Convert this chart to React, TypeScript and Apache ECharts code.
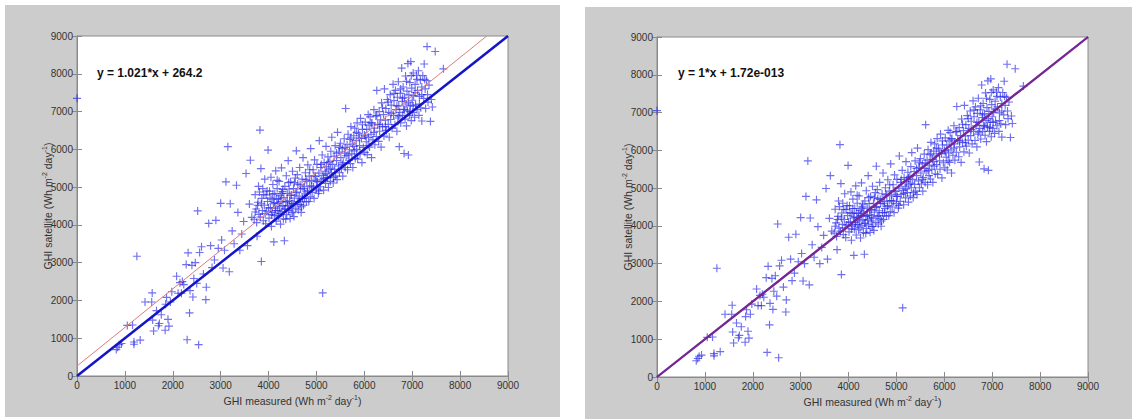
import React, { useEffect, useRef } from "react";
import * as echarts from "echarts";

const xTicks = ["0", "1000", "2000", "3000", "4000", "5000", "6000", "7000", "8000", "9000"];
const leftEquation = "y = 1.021*x + 264.2";
const rightEquation = "y = 1*x + 1.72e-013";
const identityLine = [[0, 0], [9000, 9000]];
const leftFitLine = [[0, 264.2], [8556, 9000]];
const rightFitLine = [[0, 0], [9000, 9000]];

const leftPoints = [
  [0, 7350],
  [820, 700], [850, 760], [880, 830], [930, 860], [1050, 1340], [1160, 1350], [1190, 900], [1190, 840],
  [1320, 950], [1250, 3170], [1420, 1960], [1560, 1960], [1570, 2200], [1600, 1190], [1580, 1480],
  [1660, 1730], [1700, 1330], [1720, 1390], [1760, 1620], [1840, 1210], [1850, 1900], [1870, 2080],
  [1900, 1500], [1920, 1320], [1950, 1960], [1980, 2230], [2080, 2640], [2110, 2190], [2150, 2470],
  [2180, 2190], [2200, 2500], [2230, 2420], [2280, 2950], [2300, 960], [2320, 3260], [2350, 1670],
  [2360, 2260], [2400, 2930], [2420, 2090], [2440, 2580], [2470, 3000], [2500, 2450], [2520, 4370],
  [2540, 830], [2560, 3270], [2600, 3420], [2640, 2700], [2690, 2020], [2700, 2350], [2750, 4040],
  [2790, 3450], [2820, 2870], [2870, 3070], [2900, 4120], [2950, 3380], [3000, 4570], [3020, 3600],
  [3050, 2860], [3080, 3330], [3110, 5140], [3150, 6070], [3180, 2760], [3200, 4560], [3240, 3840],
  [3280, 3500], [3330, 5050], [3360, 4330], [3400, 3330], [3440, 3760], [3480, 4090], [3530, 5360],
  [3560, 3450], [3600, 4550], [3620, 5710], [3650, 4200],
  [3700, 4150], [3720, 4800], [3740, 4420], [3760, 3700], [3780, 4600], [3790, 5020], [3800, 4280],
  [3820, 6510], [3840, 5490], [3850, 3030], [3860, 4700], [3870, 4380], [3880, 4960], [3890, 4110],
  [3910, 4520], [3920, 5210], [3940, 4030], [3950, 4790], [3960, 4360], [3980, 4620], [3990, 5980],
  [4010, 4180], [4020, 4890], [4040, 4450], [4050, 5260], [4060, 3960], [4070, 4680], [4080, 4330],
  [4090, 5070], [4100, 4560], [4110, 3550], [4120, 4250], [4130, 4820], [4140, 4440], [4150, 5430],
  [4160, 4100], [4170, 4690], [4180, 4960], [4190, 4380], [4200, 4570], [4210, 4230], [4220, 5150],
  [4230, 4480], [4240, 4770], [4250, 4020], [4260, 4620], [4270, 5510], [4280, 4350], [4290, 4880],
  [4300, 4510], [4310, 4160], [4320, 4720], [4330, 3580], [4340, 5020], [4350, 4420], [4360, 4600],
  [4370, 5300], [4380, 4270], [4390, 4830], [4400, 4510], [4410, 5700], [4420, 4380], [4430, 4950],
  [4440, 4640], [4450, 4170], [4460, 5140], [4470, 4480], [4480, 4790], [4490, 4320], [4500, 5420],
  [4510, 4560], [4520, 4960], [4530, 4220], [4540, 4710], [4560, 5240], [4570, 4440], [4580, 5960],
  [4590, 4870], [4600, 4600], [4610, 5080], [4620, 4400], [4640, 4760], [4650, 5520], [4660, 4540],
  [4670, 4950], [4680, 4330], [4700, 5210], [4710, 4700], [4720, 5780], [4730, 4520], [4750, 5010],
  [4760, 4820], [4770, 5380], [4790, 4610], [4800, 5150], [4810, 4870], [4820, 5590], [4840, 4620],
  [4850, 5290], [4860, 5030], [4870, 4740], [4880, 6020], [4900, 5180], [4910, 4860], [4930, 5460],
  [4940, 5000], [4950, 4700], [4960, 5720], [4980, 5280], [5000, 4950], [5010, 5600], [5020, 5140],
  [5040, 4830], [5050, 5370], [5060, 6230], [5080, 5010], [5090, 5520], [5100, 5190], [5120, 5850],
  [5130, 2200], [5140, 5310], [5150, 4920], [5160, 5650], [5180, 5420], [5190, 5100], [5200, 6080],
  [5210, 5540], [5230, 5250], [5240, 5800], [5250, 4990], [5260, 5460], [5280, 5680], [5290, 5150],
  [5300, 5950], [5310, 5380], [5320, 6320], [5340, 5600], [5350, 5110], [5370, 5820], [5380, 5470],
  [5390, 6100], [5400, 5290], [5420, 5700], [5430, 5200], [5440, 6450], [5460, 5560], [5470, 5930],
  [5480, 5380], [5500, 6160], [5510, 5780], [5520, 5480], [5540, 6020], [5550, 5290], [5560, 5650],
  [5580, 6280], [5590, 5900], [5600, 5520], [5610, 7080], [5620, 5830], [5640, 6120], [5650, 5460],
  [5660, 6400], [5680, 5710], [5690, 5990], [5700, 6260], [5710, 5620], [5720, 6600], [5740, 5880],
  [5750, 6140], [5760, 5520], [5780, 6360], [5790, 5960], [5800, 6560], [5810, 5760], [5830, 6230],
  [5840, 6000], [5850, 6700], [5860, 5740], [5880, 6420], [5900, 6100], [5910, 5880], [5920, 6820],
  [5940, 6290], [5950, 5650], [5960, 6530], [5980, 6050], [6000, 6380], [6010, 5920], [6020, 6720],
  [6040, 6200], [6050, 6530], [6060, 5860], [6080, 6920], [6090, 6310], [6100, 6640], [6110, 6060],
  [6120, 6860], [6140, 6400], [6150, 5780], [6160, 6700], [6180, 6250], [6200, 7050], [6210, 6560],
  [6220, 6120], [6240, 6880], [6250, 6340], [6260, 7560], [6280, 6660], [6300, 6210], [6310, 7000],
  [6320, 6480], [6340, 6780], [6350, 6060], [6360, 7230], [6380, 6600], [6400, 6920], [6410, 6350],
  [6420, 7600], [6440, 6770], [6450, 7080], [6460, 6500], [6480, 7320], [6500, 6660], [6510, 6980],
  [6520, 6320], [6540, 7450], [6550, 6790], [6560, 7170], [6580, 6560], [6600, 7720], [6610, 6900],
  [6620, 7290], [6640, 6650], [6650, 7560], [6660, 7050], [6680, 6480], [6690, 7380], [6700, 6830],
  [6710, 7790], [6720, 7150], [6730, 6070], [6740, 6980], [6750, 7480], [6760, 6700], [6780, 8150],
  [6790, 7270], [6800, 6900], [6810, 7650], [6820, 7060], [6830, 5890], [6840, 7380], [6850, 6800],
  [6860, 7940], [6870, 7200], [6880, 6620], [6890, 7540], [6900, 7020], [6910, 8270], [6920, 5850],
  [6930, 7440], [6940, 6900], [6950, 7770], [6960, 7150], [6970, 8320], [6980, 6760], [6990, 7620],
  [7000, 7300], [7010, 6980], [7020, 8020], [7030, 7420], [7050, 6850], [7060, 7720], [7070, 7180],
  [7090, 7960], [7100, 7050], [7110, 7560], [7130, 8080], [7140, 6900], [7150, 7400], [7170, 7830],
  [7180, 7100], [7200, 6750], [7200, 7650], [7220, 7950], [7240, 7350], [7250, 8260], [7270, 7600],
  [7280, 7080], [7300, 7820], [7310, 8720], [7320, 7450], [7350, 7700], [7380, 6740], [7400, 7320],
  [7420, 7120], [7480, 8590], [7650, 8130],
  [3720, 4340], [3750, 4060], [3770, 4520], [3810, 4870], [3830, 4210], [3850, 4560], [3900, 4800],
  [3930, 4300], [3970, 4900], [4000, 4450], [4030, 4710], [4060, 4270], [4090, 4820], [4120, 4590],
  [4150, 4380], [4180, 5180], [4210, 4690], [4240, 4300], [4270, 4830], [4300, 4940], [4330, 4420],
  [4360, 4150], [4390, 4620], [4420, 5120], [4450, 4780], [4480, 4560], [4510, 4340], [4540, 5120],
  [4570, 4850], [4600, 5330], [4630, 4620], [4660, 5060], [4690, 4480], [4720, 4960], [4750, 4700],
  [4780, 5200], [4820, 4900], [4860, 5460], [4900, 5030], [4950, 5300], [5000, 5150], [5050, 4900],
  [5100, 5600], [5150, 5230], [5200, 5350], [5250, 5650], [5300, 5500], [5360, 5250], [5420, 5900],
  [5480, 6050], [5540, 5600], [5600, 6050], [5660, 5850], [5720, 6300], [5780, 6080], [5840, 6450],
  [5900, 6300], [5960, 6650], [6020, 6350], [6080, 6100], [6140, 6700], [6200, 6450], [6260, 6900],
  [6320, 6650], [6380, 7100], [6440, 6600], [6500, 7250], [6560, 6950], [6620, 7480], [6680, 7150],
  [6720, 6880], [6760, 7600], [6800, 7350], [6840, 7050], [6880, 7800], [6920, 7250], [6950, 7000],
  [6980, 7950], [7020, 7150], [7060, 7500], [7100, 7850], [7150, 7200], [7200, 7450], [7260, 7850],
  [7330, 7250],
];

const rightPoints = [
  [0, 7050],
  [820, 430], [850, 490], [880, 550], [930, 580], [1050, 1050], [1160, 1060], [1190, 620], [1190, 560],
  [1320, 670], [1250, 2880], [1420, 1660], [1560, 1660], [1570, 1900], [1600, 900], [1580, 1190],
  [1660, 1430], [1700, 1040], [1720, 1100], [1760, 1330], [1840, 920], [1850, 1600], [1870, 1780],
  [1900, 1210], [1920, 1030], [1950, 1660], [1980, 1930], [2080, 2330], [2110, 1890], [2150, 2160],
  [2180, 1890], [2200, 2190], [2230, 2110], [2280, 2630], [2300, 650], [2320, 2930], [2350, 1380],
  [2360, 1950], [2400, 2610], [2420, 1790], [2440, 2270], [2470, 2680], [2500, 2140], [2520, 4050],
  [2540, 510], [2560, 2940], [2600, 3090], [2640, 2380], [2690, 1720], [2700, 2040], [2750, 3700],
  [2790, 3120], [2820, 2550], [2870, 2750], [2900, 3780], [2950, 3050], [3000, 4220], [3020, 3270],
  [3050, 2540], [3080, 3000], [3110, 4780], [3150, 5720], [3180, 2440], [3200, 4210], [3240, 3500],
  [3280, 3170], [3330, 4690], [3360, 3980], [3400, 3000], [3440, 3430], [3480, 3750], [3530, 4990],
  [3560, 3120], [3600, 4200], [3620, 5330], [3650, 3860],
  [3700, 3810], [3720, 4440], [3740, 4080], [3760, 3370], [3780, 4250], [3790, 4660], [3800, 3940],
  [3820, 6150], [3840, 5120], [3850, 2710], [3860, 4340], [3870, 4040], [3880, 4600], [3890, 3770],
  [3910, 4170], [3920, 4850], [3940, 3690], [3950, 4430], [3960, 4020], [3980, 4270], [3990, 5600],
  [4010, 3840], [4020, 4530], [4040, 4100], [4050, 4900], [4060, 3620], [4070, 4330], [4080, 3990],
  [4090, 4710], [4100, 4210], [4110, 3220], [4120, 3910], [4130, 4460], [4140, 4090], [4150, 5060],
  [4160, 3760], [4170, 4340], [4180, 4600], [4190, 4040], [4200, 4220], [4210, 3890], [4220, 4790],
  [4230, 4130], [4240, 4410], [4250, 3680], [4260, 4270], [4270, 5140], [4280, 4000], [4290, 4520],
  [4300, 4160], [4310, 3820], [4320, 4370], [4330, 3250], [4340, 4660], [4350, 4070], [4360, 4250],
  [4370, 4930], [4380, 3930], [4390, 4470], [4400, 4160], [4410, 5330], [4420, 4030], [4430, 4590],
  [4440, 4290], [4450, 3830], [4460, 4780], [4470, 4130], [4480, 4430], [4490, 3980], [4500, 5050],
  [4510, 4210], [4520, 4600], [4530, 3880], [4540, 4360], [4560, 4880], [4570, 4090], [4580, 5580],
  [4590, 4510], [4600, 4250], [4610, 4720], [4620, 4050], [4640, 4400], [4650, 5150], [4660, 4190],
  [4670, 4590], [4680, 3990], [4700, 4850], [4710, 4350], [4720, 5400], [4730, 4170], [4750, 4650],
  [4760, 4460], [4770, 5010], [4790, 4260], [4800, 4790], [4810, 4510], [4820, 5220], [4840, 4270],
  [4850, 4920], [4860, 4670], [4870, 4380], [4880, 5640], [4900, 4820], [4910, 4500], [4930, 5090],
  [4940, 4640], [4950, 4350], [4960, 5350], [4980, 4910], [5000, 4590], [5010, 5230], [5020, 4780],
  [5040, 4470], [5050, 5000], [5060, 5850], [5080, 4650], [5090, 5150], [5100, 4830], [5120, 5470],
  [5130, 1830], [5140, 4940], [5150, 4560], [5160, 5280], [5180, 5050], [5190, 4740], [5200, 5700],
  [5210, 5170], [5230, 4880], [5240, 5420], [5250, 4630], [5260, 5090], [5280, 5310], [5290, 4790],
  [5300, 5570], [5310, 5010], [5320, 5940], [5340, 5230], [5350, 4750], [5370, 5440], [5380, 5100],
  [5390, 5720], [5400, 4920], [5420, 5330], [5430, 4830], [5440, 6060], [5460, 5190], [5470, 5550],
  [5480, 5010], [5500, 5780], [5510, 5400], [5520, 5110], [5540, 5640], [5550, 4920], [5560, 5280],
  [5580, 5900], [5590, 5520], [5600, 5150], [5610, 6680], [5620, 5450], [5640, 5740], [5650, 5090],
  [5660, 6020], [5680, 5330], [5690, 5610], [5700, 5880], [5710, 5240], [5720, 6210], [5740, 5500],
  [5750, 5760], [5760, 5150], [5780, 5980], [5790, 5580], [5800, 6170], [5810, 5380], [5830, 5850],
  [5840, 5620], [5850, 6310], [5860, 5360], [5880, 6040], [5900, 5720], [5910, 5500], [5920, 6430],
  [5940, 5910], [5950, 5270], [5960, 6140], [5980, 5670], [6000, 6000], [6010, 5540], [6020, 6330],
  [6040, 5820], [6050, 6140], [6060, 5480], [6080, 6530], [6090, 5930], [6100, 6250], [6110, 5680],
  [6120, 6470], [6140, 6010], [6150, 5400], [6160, 6310], [6180, 5870], [6200, 6650], [6210, 6170],
  [6220, 5740], [6240, 6490], [6250, 5950], [6260, 7160], [6280, 6270], [6300, 5830], [6310, 6600],
  [6320, 6090], [6340, 6390], [6350, 5680], [6360, 6830], [6380, 6210], [6400, 6520], [6410, 5960],
  [6420, 7190], [6440, 6380], [6450, 6680], [6460, 6110], [6480, 6920], [6500, 6270], [6510, 6580],
  [6520, 5930], [6540, 7040], [6550, 6390], [6560, 6770], [6580, 6170], [6600, 7310], [6610, 6500],
  [6620, 6890], [6640, 6260], [6650, 7150], [6660, 6650], [6680, 6090], [6690, 6980], [6700, 6430],
  [6710, 7380], [6720, 6750], [6730, 5690], [6740, 6580], [6750, 7070], [6760, 6300], [6780, 7730],
  [6790, 6870], [6800, 6500], [6810, 7240], [6820, 6660], [6830, 5510], [6840, 6970], [6850, 6400],
  [6860, 7520], [6870, 6790], [6880, 6230], [6890, 7130], [6900, 6620], [6910, 7840], [6920, 5470],
  [6930, 7030], [6940, 6500], [6950, 7350], [6960, 6740], [6970, 7890], [6980, 6360], [6990, 7210],
  [7000, 6890], [7010, 6580], [7020, 7600], [7030, 7010], [7050, 6450], [7060, 7300], [7070, 6770],
  [7090, 7540], [7100, 6650], [7110, 7150], [7130, 7660], [7140, 6500], [7150, 6990], [7170, 7410],
  [7180, 6700], [7200, 6350], [7200, 7240], [7220, 7530], [7240, 6940], [7250, 7830], [7270, 7190],
  [7280, 6680], [7300, 7400], [7310, 8280], [7320, 7040], [7350, 7280], [7380, 6340], [7400, 6910],
  [7420, 6710], [7480, 8160], [7650, 7700],
  [3720, 3990], [3750, 3720], [3770, 4170], [3810, 4510], [3830, 3860], [3850, 4210], [3900, 4440],
  [3930, 3950], [3970, 4540], [4000, 4100], [4030, 4350], [4060, 3920], [4090, 4460], [4120, 4240],
  [4150, 4030], [4180, 4810], [4210, 4330], [4240, 3950], [4270, 4470], [4300, 4580], [4330, 4070],
  [4360, 3800], [4390, 4270], [4420, 4750], [4450, 4420], [4480, 4210], [4510, 3990], [4540, 4750],
  [4570, 4490], [4600, 4960], [4630, 4270], [4660, 4700], [4690, 4130], [4720, 4600], [4750, 4350],
  [4780, 4830], [4820, 4540], [4860, 5090], [4900, 4670], [4950, 4930], [5000, 4780], [5050, 4540],
  [5100, 5230], [5150, 4860], [5200, 4980], [5250, 5270], [5300, 5130], [5360, 4880], [5420, 5520],
  [5480, 5670], [5540, 5230], [5600, 5670], [5660, 5470], [5720, 5910], [5780, 5700], [5840, 6060],
  [5900, 5910], [5960, 6250], [6020, 5960], [6080, 5720], [6140, 6300], [6200, 6060], [6260, 6500],
  [6320, 6250], [6380, 6690], [6440, 6200], [6500, 6840], [6560, 6550], [6620, 7070], [6680, 6740],
  [6720, 6480], [6760, 7180], [6800, 6940], [6840, 6640], [6880, 7380], [6920, 6840], [6950, 6600],
  [6980, 7530], [7020, 6740], [7060, 7090], [7100, 7430], [7150, 6790], [7200, 7040], [7260, 7430],
  [7330, 6840],
];

const FONT = "'Liberation Sans', Arial, sans-serif";
const axisGray = "#8a8a8a";
const labelColor = "#333333";
const plusPath = "path://M3,0H4V3H7V4H4V7H3V4H0V3H3Z";

const axisNameRich = {
  a: { fontSize: 10.5, fontFamily: FONT, color: labelColor, lineHeight: 14 },
  s: { fontSize: 7, fontFamily: FONT, color: labelColor, verticalAlign: "top" as const },
};

const grids = [
  { left: 77, top: 36, width: 431, height: 340 },
  { left: 657, top: 37, width: 431, height: 340 },
];

function makeXAxes(gi: number) {
  const common = {
    type: "value" as const,
    gridIndex: gi,
    min: 0,
    max: 9000,
    interval: 1000,
    splitLine: { show: false },
    axisLine: { show: true, lineStyle: { color: axisGray, width: 1 } },
    axisTick: { show: true, inside: true, length: 5, lineStyle: { color: axisGray } },
  };
  return [
    {
      ...common,
      position: "bottom" as const,
      axisLabel: {
        fontSize: 10,
        fontFamily: FONT,
        color: labelColor,
        margin: 4,
        formatter: (v: number) => xTicks[Math.round(v / 1000)] ?? String(v),
      },
      name: "{a|GHI measured (Wh m}{s|-2}{a| day}{s|-1}{a|)}",
      nameLocation: "middle" as const,
      nameGap: 18,
      nameMoveOverlap: false,
      nameTextStyle: { rich: axisNameRich },
    },
    { ...common, position: "top" as const, axisLabel: { show: false } },
  ];
}

function makeYAxes(gi: number) {
  const common = {
    type: "value" as const,
    gridIndex: gi,
    min: 0,
    max: 9000,
    interval: 1000,
    splitLine: { show: false },
    axisLine: { show: true, lineStyle: { color: axisGray, width: 1 } },
    axisTick: { show: true, inside: true, length: 5, lineStyle: { color: axisGray } },
  };
  return [
    {
      ...common,
      position: "left" as const,
      axisLabel: {
        fontSize: 10,
        fontFamily: FONT,
        color: labelColor,
        margin: 4,
        formatter: (v: number) => xTicks[Math.round(v / 1000)] ?? String(v),
      },
      name: "{a|GHI satellite (Wh m}{s|-2}{a| day}{s|-1}{a|)}",
      nameLocation: "middle" as const,
      nameGap: 22,
      nameMoveOverlap: false,
      nameTextStyle: { rich: axisNameRich },
    },
    { ...common, position: "right" as const, axisLabel: { show: false } },
  ];
}

function scatterSeries(data: number[][], gi: number) {
  return {
    type: "scatter" as const,
    xAxisIndex: gi * 2,
    yAxisIndex: gi * 2,
    data,
    symbol: plusPath,
    symbolSize: 8,
    itemStyle: { color: "rgba(30,30,230,0.8)" },
    silent: true,
    clip: true,
  };
}

function lineSeries(data: number[][], gi: number, color: string, width: number) {
  return {
    type: "line" as const,
    xAxisIndex: gi * 2,
    yAxisIndex: gi * 2,
    data,
    symbol: "none",
    showSymbol: false,
    lineStyle: { color, width },
    silent: true,
    clip: true,
  };
}

export default function App() {
  const ref = useRef<HTMLDivElement>(null);
  useEffect(() => {
    if (!ref.current) return;
    const chart = echarts.init(ref.current, null, { renderer: "svg" });
    chart.setOption({
      animation: false,
      backgroundColor: "#ffffff",
      grid: grids.map((g) => ({
        ...g,
        show: true,
        backgroundColor: "#ffffff",
        borderColor: axisGray,
        borderWidth: 1,
        containLabel: false,
      })),
      xAxis: [...makeXAxes(0), ...makeXAxes(1)],
      yAxis: [...makeYAxes(0), ...makeYAxes(1)],
      graphic: [
        {
          type: "rect",
          z: -100,
          silent: true,
          shape: { x: 5, y: 5, width: 555, height: 412 },
          style: { fill: "#cccccc" },
        },
        {
          type: "rect",
          z: -100,
          silent: true,
          shape: { x: 585, y: 7, width: 547, height: 412 },
          style: { fill: "#cccccc" },
        },
        {
          type: "text",
          z: 100,
          x: 97,
          y: 73,
          style: {
            text: leftEquation,
            font: `bold 12px ${FONT}`,
            fill: "#111111",
            verticalAlign: "middle",
          },
        },
        {
          type: "text",
          z: 100,
          x: 678,
          y: 73,
          style: {
            text: rightEquation,
            font: `bold 12px ${FONT}`,
            fill: "#111111",
            verticalAlign: "middle",
          },
        },
      ],
      series: [
        scatterSeries(leftPoints, 0),
        lineSeries(identityLine, 0, "#1414c8", 2.5),
        lineSeries(leftFitLine, 0, "#e07a7a", 1),
        scatterSeries(rightPoints, 1),
        lineSeries(identityLine, 1, "#2a22c4", 2.2),
        lineSeries(rightFitLine, 1, "rgba(200,40,90,0.5)", 2.2),
      ],
    });
    return () => chart.dispose();
  }, []);
  return (
    <div
      ref={ref}
      style={{ position: "fixed", left: 0, top: 0, width: 1132, height: 419 }}
    />
  );
}
